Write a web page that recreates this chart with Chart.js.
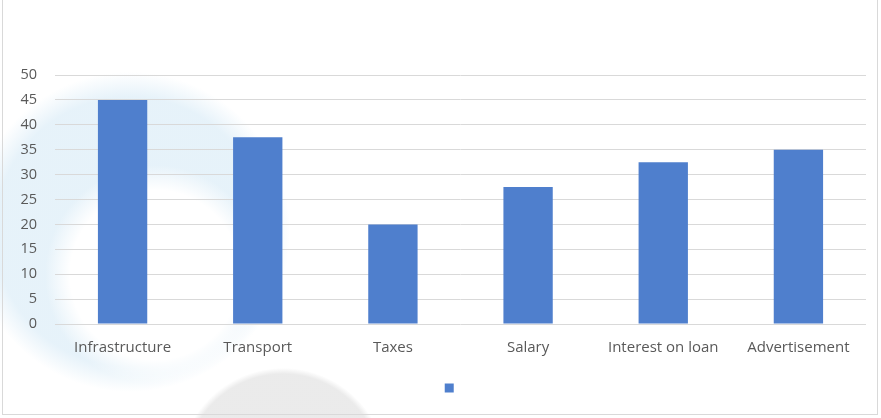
<!DOCTYPE html>
<html>
<head>
<meta charset="utf-8">
<script src="https://cdn.jsdelivr.net/npm/chart.js@4/dist/chart.umd.min.js"></script>
<style>
    html, body { margin: 0; padding: 0; background: #fff; }
    #wrap {
        position: relative;
        width: 881px;
        height: 418px;
        overflow: hidden;
        background:
            radial-gradient(circle at 155px 275px, rgba(255,255,255,1) 85px, rgba(255,255,255,0) 110px),
            radial-gradient(circle at 130px 232px, rgba(222,238,248,0.75) 135px, rgba(255,255,255,0) 160px),
            radial-gradient(circle at 283px 472px, rgba(228,228,228,0.75) 98px, rgba(255,255,255,0) 104px),
            #fff;
    }
    #frame {
        position: absolute;
        left: 2px; top: -2px;
        width: 876px; height: 417px;
        border: 1px solid #d9d9d9;
        box-sizing: border-box;
        pointer-events: none;
    }
    canvas { position: absolute; left: 0; top: 0; }
</style>
</head>
<body>
<div id="wrap">
    <canvas id="statChart" width="881" height="418"></canvas>
    <div id="frame"></div>
</div>
<script>
const categories = ['Infrastructure', 'Transport', 'Taxes', 'Salary', 'Interest on loan', 'Advertisement'];
const expenseValues = [45, 37.5, 20, 27.5, 32.5, 35];
const yTicks = [0, 5, 10, 15, 20, 25, 30, 35, 40, 45, 50];

const barColor = '#4f7fcd';
const textColor = '#595959';
const fontFamily = "'Open Sans', 'Noto Sans', sans-serif";

const ctx = document.getElementById('statChart').getContext('2d');

new Chart(ctx, {
    type: 'bar',
    data: {
        labels: categories,
        datasets: [{
            // series has no name in the original, only the swatch shows
            label: '    ',
            data: expenseValues,
            backgroundColor: barColor,
            borderWidth: 0,
            categoryPercentage: 1,
            barPercentage: 0.365
        }]
    },
    options: {
        responsive: false,
        animation: false,
        layout: {
            padding: { left: 14, right: 15, top: 75, bottom: 14 }
        },
        plugins: {
            legend: {
                position: 'bottom',
                rtl: true,
                labels: {
                    boxWidth: 9,
                    boxHeight: 9,
                    padding: 8,
                    font: { family: fontFamily, size: 12 }
                }
            },
            tooltip: { enabled: false }
        },
        scales: {
            x: {
                grid: { display: false },
                border: { display: false },
                ticks: {
                    color: textColor,
                    font: { family: fontFamily, size: 15 },
                    padding: 7,
                    maxRotation: 0
                },
                afterFit: (scale) => { scale.height = 50; }
            },
            y: {
                min: 0,
                max: 50,
                afterBuildTicks: (scale) => {
                    scale.ticks = yTicks.map(v => ({ value: v }));
                },
                grid: { color: '#d9d9d9', lineWidth: 1, drawTicks: false },
                border: { display: false },
                ticks: {
                    color: textColor,
                    font: { family: fontFamily, size: 14.5 },
                    padding: 18
                },
                afterFit: (scale) => { scale.width = 41; }
            }
        }
    }
});
</script>
</body>
</html>
